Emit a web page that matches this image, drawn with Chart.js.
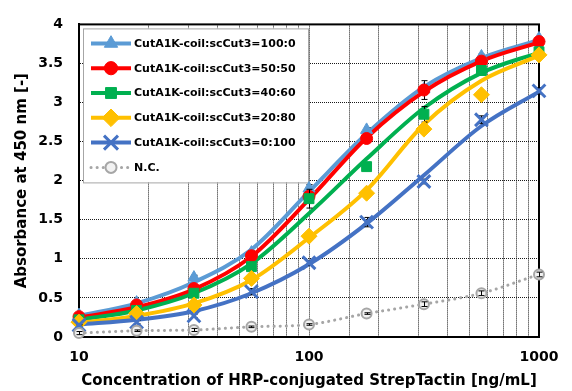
<!DOCTYPE html>
<html>
<head>
<meta charset="utf-8">
<title>Absorbance vs StrepTactin concentration</title>
<script src="https://cdn.jsdelivr.net/npm/chart.js@4.4.1/dist/chart.umd.min.js"></script>
<style>
	html, body { margin: 0; padding: 0; background: #fff; }
	#chart { display: block; }
</style>
</head>
<body>
<canvas id="chart" width="572" height="391"></canvas>
<script>
// --- DATA ---
const concentrations = [10, 17.8, 31.6, 56.2, 100, 178, 316, 562, 1000];
const seriesLabels = [
	'CutA1K-coil:scCut3=100:0',
	'CutA1K-coil:scCut3=50:50',
	'CutA1K-coil:scCut3=40:60',
	'CutA1K-coil:scCut3=20:80',
	'CutA1K-coil:scCut3=0:100',
	'N.C.'
];
const xTickLabels = [10, 100, 1000];

// measured absorbance (markers)
const abs100_0 = [0.28, 0.44, 0.76, 1.08, 1.90, 2.65, 3.17, 3.59, 3.82];
const abs50_50 = [0.26, 0.41, 0.62, 1.04, 1.80, 2.54, 3.16, 3.53, 3.78];
const abs40_60 = [0.22, 0.34, 0.56, 0.90, 1.77, 2.18, 2.85, 3.41, 3.65];
const abs20_80 = [0.19, 0.30, 0.41, 0.75, 1.29, 1.84, 2.66, 3.10, 3.61];
const abs0_100 = [0.15, 0.19, 0.27, 0.58, 0.95, 1.47, 1.99, 2.78, 3.15];
const absNC    = [0.05, 0.08, 0.09, 0.13, 0.16, 0.30, 0.42, 0.56, 0.80];

// error bar half-lengths
const err100_0 = [0.02, 0.02, 0.03, 0.02, 0.05, 0.03, 0.05, 0.03, 0.02];
const err50_50 = [0.02, 0.02, 0.02, 0.03, 0.04, 0.05, 0.12, 0.04, 0.03];
const err40_60 = [0.02, 0.02, 0.02, 0.03, 0.12, 0.04, 0.10, 0.04, 0.03];
const err20_80 = [0.01, 0.02, 0.02, 0.02, 0.04, 0.03, 0.05, 0.03, 0.03];
const err0_100 = [0.01, 0.02, 0.02, 0.04, 0.03, 0.06, 0.03, 0.05, 0.04];
const errNC    = [0.02, 0.01, 0.02, 0.01, 0.01, 0.01, 0.03, 0.03, 0.03];

// fitted curves, read at the same concentrations
const fit100_0 = [0.27, 0.43, 0.70, 1.12, 1.86, 2.60, 3.20, 3.57, 3.80];
const fit50_50 = [0.25, 0.38, 0.61, 1.03, 1.76, 2.55, 3.14, 3.53, 3.77];
const fit40_60 = [0.22, 0.34, 0.56, 0.94, 1.58, 2.28, 2.93, 3.38, 3.64];
const fit20_80 = [0.18, 0.27, 0.43, 0.73, 1.27, 1.88, 2.72, 3.28, 3.60];
const fit0_100 = [0.16, 0.22, 0.33, 0.56, 0.93, 1.45, 2.07, 2.70, 3.14];

const measured = [abs100_0, abs50_50, abs40_60, abs20_80, abs0_100, absNC];
const errors = [err100_0, err50_50, err40_60, err20_80, err0_100, errNC];
const fits = [fit100_0, fit50_50, fit40_60, fit20_80, fit0_100, null];

// --- STYLES ---
const seriesStyles = [
	{ color: '#5B9BD5', point: 'triangle', radius: 7, pointBorder: 1 },
	{ color: '#FF0000', point: 'circle', radius: 6, pointBorder: 1 },
	{ color: '#00B050', point: 'rect', radius: 7, pointBorder: 1 },
	{ color: '#FFC000', point: 'rectRot', radius: 8, pointBorder: 1 },
	{ color: '#4472C4', point: 'crossRot', radius: 9, pointBorder: 3 },
	{ color: '#A6A6A6', point: 'circle', radius: 5, pointBorder: 2, fill: '#f2f2f2', dotted: true }
];

const toXY = vals => concentrations.map((c, i) => ({ x: c, y: vals[i] }));

const datasets = [];
seriesLabels.forEach((label, i) => {
	const st = seriesStyles[i];
	if (fits[i]) {
		datasets.push({
			label: label + ' fit',
			data: toXY(fits[i]),
			borderColor: st.color,
			borderWidth: 4,
			pointRadius: 0,
			cubicInterpolationMode: 'monotone',
			clip: false,
			order: 100 - i
		});
	}
	datasets.push({
		label: label,
		data: toXY(measured[i]),
		showLine: !!st.dotted,
		borderColor: st.color,
		borderWidth: 3,
		borderDash: st.dotted ? [0.1, 6] : [],
		borderCapStyle: 'round',
		cubicInterpolationMode: 'monotone',
		pointStyle: st.point,
		pointRadius: st.radius,
		pointBorderWidth: st.pointBorder,
		pointBackgroundColor: st.fill || st.color,
		pointBorderColor: st.color,
		clip: false,
		errors: errors[i],
		errorsOnTop: !!st.dotted,
		order: 50 - i
	});
});

// --- PLUGINS ---
function drawErrors(chart, meta, ds) {
	const ctx = chart.ctx;
	const yScale = chart.scales.y;
	ctx.save();
	ctx.strokeStyle = '#000';
	ctx.lineWidth = 1;
	meta.data.forEach((pt, i) => {
		const e = ds.errors[i];
		if (!e) return;
		const v = ds.data[i].y;
		const y1 = yScale.getPixelForValue(v - e);
		const y2 = yScale.getPixelForValue(v + e);
		const x = Math.round(pt.x) + 0.5;
		ctx.beginPath();
		ctx.moveTo(x, y1); ctx.lineTo(x, y2);
		ctx.moveTo(x - 3, y1); ctx.lineTo(x + 3, y1);
		ctx.moveTo(x - 3, y2); ctx.lineTo(x + 3, y2);
		ctx.stroke();
	});
	ctx.restore();
}

const errorBars = {
	id: 'errorBars',
	beforeDatasetDraw(chart, args) {
		const ds = chart.data.datasets[args.index];
		if (ds.errors && !ds.errorsOnTop) drawErrors(chart, args.meta, ds);
	},
	afterDatasetDraw(chart, args) {
		const ds = chart.data.datasets[args.index];
		if (ds.errors && ds.errorsOnTop) drawErrors(chart, args.meta, ds);
	}
};

// frame round the plot area and the boxed legend in its top-left corner
const frameAndLegend = {
	id: 'frameAndLegend',
	beforeDatasetsDraw(chart) {
		const ctx = chart.ctx;
		const a = chart.chartArea;
		ctx.save();
		ctx.strokeStyle = '#000';
		ctx.lineWidth = 2;
		ctx.strokeRect(a.left, a.top, a.right - a.left, a.bottom - a.top);

		// legend box
		const bx = a.left + 4, by = a.top + 4, bw = 225, bh = 154;
		ctx.fillStyle = '#fff';
		ctx.fillRect(bx, by, bw, bh);
		ctx.strokeStyle = '#a6a6a6';
		ctx.lineWidth = 1;
		ctx.strokeRect(bx + 0.5, by + 0.5, bw, bh);

		ctx.font = 'bold 11px "DejaVu Sans"';
		ctx.textBaseline = 'middle';
		ctx.textAlign = 'left';
		const drawPoint = Chart.helpers && Chart.helpers.drawPoint;
		seriesLabels.forEach((label, i) => {
			const st = seriesStyles[i];
			const y = by + 15 + i * 24.8;
			const x0 = bx + 8, x1 = bx + 48, xm = (x0 + x1) / 2;
			ctx.save();
			ctx.strokeStyle = st.color;
			ctx.lineWidth = st.dotted ? 3 : 4;
			ctx.lineCap = st.dotted ? 'round' : 'butt';
			ctx.setLineDash(st.dotted ? [0.1, 6] : []);
			ctx.beginPath();
			ctx.moveTo(x0, y); ctx.lineTo(x1, y);
			ctx.stroke();
			ctx.setLineDash([]);
			if (drawPoint) {
				ctx.fillStyle = st.fill || st.color;
				ctx.strokeStyle = st.color;
				ctx.lineWidth = st.pointBorder;
				drawPoint(ctx, { pointStyle: st.point, rotation: 0, radius: st.radius * 1.1, borderWidth: st.pointBorder }, xm, y);
			}
			ctx.restore();
			ctx.fillStyle = '#000';
			ctx.fillText(label, x1 + 3, y + 0.5);
		});
		ctx.restore();
	}
};

// --- CHART ---
Chart.defaults.font.family = '"DejaVu Sans", Verdana, sans-serif';
Chart.defaults.font.weight = 'bold';
Chart.defaults.color = '#000';

const isDecade = v => Math.abs(Math.log10(v) - Math.round(Math.log10(v))) < 1e-6;

new Chart(document.getElementById('chart'), {
	type: 'line',
	data: { datasets: datasets },
	options: {
		responsive: false,
		animation: false,
		devicePixelRatio: 1,
		layout: { padding: { top: 21, right: 33, left: 0, bottom: 0 } },
		plugins: {
			legend: { display: false },
			tooltip: { enabled: false }
		},
		scales: {
			x: {
				type: 'logarithmic',
				min: 10,
				max: 1000,
				afterFit: scale => { scale.height = 54; },
				grid: { color: '#1a1a1a', lineWidth: 1, drawTicks: false },
				border: { display: true, color: '#000', width: 2, dash: [1, 1] },
				ticks: {
					autoSkip: false,
					maxRotation: 0,
					padding: 12,
					font: { size: 14, weight: 'bold' },
					callback: v => (isDecade(v) && xTickLabels.includes(Math.round(v))) ? String(Math.round(v)) : ''
				},
				title: {
					display: true,
					text: 'Concentration of HRP-conjugated StrepTactin [ng/mL]',
					font: { size: 15, weight: 'bold' },
					padding: { top: 0, bottom: 1 }
				}
			},
			y: {
				min: 0,
				max: 4,
				afterFit: scale => { scale.width = 79; },
				grid: { color: '#1a1a1a', lineWidth: 1, drawTicks: false },
				border: { display: true, color: '#000', width: 2, dash: [1, 1] },
				ticks: {
					stepSize: 0.5,
					padding: 16,
					font: { size: 14, weight: 'bold' },
					callback: v => String(Math.round(v * 10) / 10)
				},
				title: {
					display: true,
					text: 'Absorbance at 450 nm [-]',
					font: { size: 15, weight: 'bold' },
					padding: { top: 13, bottom: 0 }
				}
			}
		}
	},
	plugins: [errorBars, frameAndLegend]
});
</script>
</body>
</html>
